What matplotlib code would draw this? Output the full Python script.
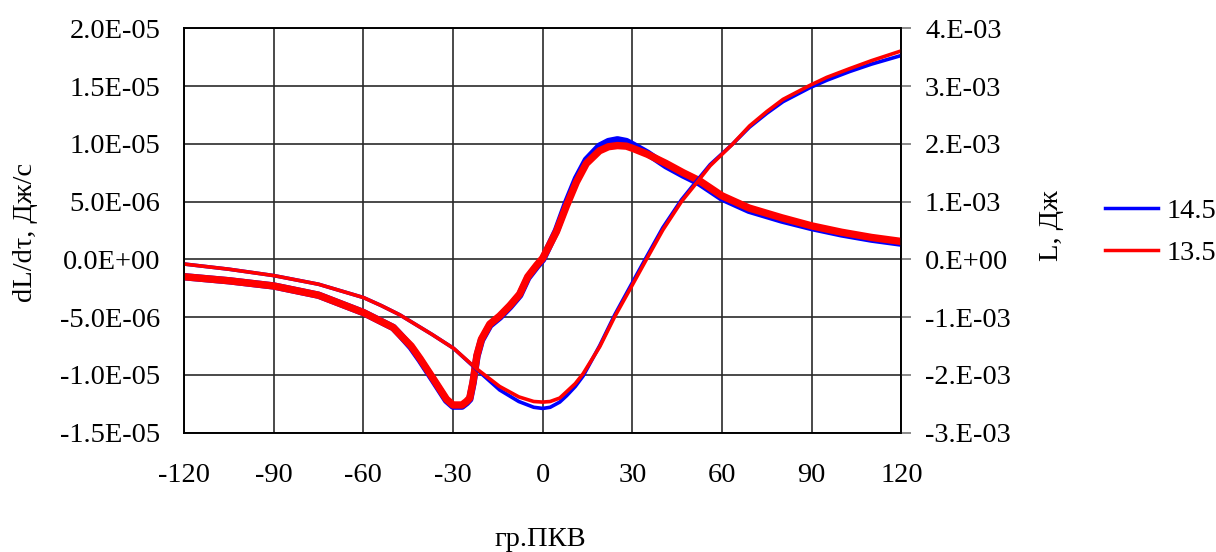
import matplotlib.pyplot as plt
from matplotlib.lines import Line2D

plt.rcParams['font.family'] = ['Liberation Serif', 'DejaVu Serif']
plt.rcParams['font.size'] = 20.5
plt.rcParams['axes.unicode_minus'] = False

# dL/dtau, left axis (x1e-6 J/s)
angle_rate = [-120, -105, -90, -75, -60, -50, -47.8, -44, -41, -36.7, -32.2, -30, -27, -25.5,
              -24.4, -23.3, -22, -20.5, -17.7, -14.4, -11, -7.7, -5, -2, 0, 4.6, 7.9, 11.3,
              14.6, 19, 22, 25, 28, 30.2, 35, 41.3, 47, 52.5, 60, 69, 80, 90, 100, 110, 120]
rate_145 = [-1.5, -1.85, -2.3, -3.1, -4.6, -5.9, -6.5, -7.6, -8.7, -10.4, -12.2, -12.7, -12.7, -12.4,
            -12.1, -10.7, -8.4, -7.0, -5.7, -5.0, -4.1, -3.1, -1.6, -0.6, 0.0, 2.5, 4.85, 7.0,
            8.6, 9.8, 10.2, 10.35, 10.2, 9.9, 9.2, 8.1, 7.3, 6.6, 5.3, 4.25, 3.4, 2.75, 2.2, 1.75, 1.4]
rate_135 = [-1.5, -1.85, -2.3, -3.1, -4.6, -5.9, -6.5, -7.5, -8.6, -10.3, -12.1, -12.6, -12.6, -12.3,
            -12.0, -10.6, -8.3, -6.9, -5.6, -4.9, -4.0, -3.0, -1.5, -0.5, 0.1, 2.4, 4.6, 6.7,
            8.3, 9.4, 9.75, 9.85, 9.8, 9.6, 9.1, 8.3, 7.5, 6.8, 5.5, 4.45, 3.6, 2.9, 2.35, 1.9, 1.55]

# L, right axis (x1e-3 J)
angle_work = [-120, -105, -90, -75, -60, -54, -47.8, -37, -29.8, -22.2, -14.4, -8, -3, 0, 2.5, 5.7,
              8, 10.9, 13.5, 19.1, 24.1, 29.7, 34.7, 40.2, 46.4, 51.4, 56, 63.6, 69.2, 75,
              80.4, 89.3, 95, 102.6, 110, 120]
work_145 = [-0.08, -0.17, -0.28, -0.43, -0.66, -0.8, -0.96, -1.3, -1.54, -1.9, -2.26, -2.46, -2.56, -2.58,
            -2.56, -2.47, -2.36, -2.2, -2.02, -1.49, -0.96, -0.43, 0.04, 0.55, 1.03, 1.35, 1.64,
            2.0, 2.29, 2.53, 2.73, 2.97, 3.1, 3.25, 3.38, 3.53]
work_135 = [-0.08, -0.17, -0.28, -0.43, -0.66, -0.8, -0.96, -1.3, -1.54, -1.89, -2.2, -2.38, -2.46, -2.47,
            -2.46, -2.4, -2.29, -2.15, -1.98, -1.51, -0.99, -0.47, 0.0, 0.51, 1.0, 1.32, 1.62,
            2.0, 2.31, 2.56, 2.77, 3.01, 3.15, 3.3, 3.44, 3.61]

x_ticks = [-120, -90, -60, -30, 0, 30, 60, 90, 120]
left_ticks = [-1.5e-5, -1.0e-5, -5.0e-6, 0.0, 5.0e-6, 1.0e-5, 1.5e-5, 2.0e-5]
left_labels = ['-1.5E-05', '-1.0E-05', '-5.0E-06', '0.0E+00', '5.0E-06', '1.0E-05', '1.5E-05', '2.0E-05']
right_ticks = [-3e-3, -2e-3, -1e-3, 0.0, 1e-3, 2e-3, 3e-3, 4e-3]
right_labels = ['-3.E-03', '-2.E-03', '-1.E-03', '0.E+00', '1.E-03', '2.E-03', '3.E-03', '4.E-03']

fig = plt.figure(figsize=(12.16, 5.52), dpi=100)
ax = fig.add_axes([184 / 1216, 1 - 432.7 / 552, 717.4 / 1216, 404.4 / 552])
ax2 = ax.twinx()

ax.plot(angle_rate, [v * 1e-6 for v in rate_145], color='#0000ff', lw=5.3, zorder=3)
ax.plot(angle_rate, [v * 1e-6 for v in rate_135], color='#ff0000', lw=5.3, zorder=4)
ax2.plot(angle_work, [v * 1e-3 for v in work_145], color='#0000ff', lw=2.6)
ax2.plot(angle_work, [v * 1e-3 for v in work_135], color='#ff0000', lw=2.6)

ax.set_xlim(-120, 120)
ax.set_ylim(-1.5e-5, 2.0e-5)
ax2.set_ylim(-3e-3, 4e-3)
ax.set_xticks(x_ticks)
ax.set_xticklabels([str(t) for t in x_ticks])
ax.set_yticks(left_ticks)
ax.set_yticklabels(left_labels)
ax2.set_yticks(right_ticks)
ax2.set_yticklabels(right_labels)

ax.grid(True, color='#2a2a2a', lw=1.2)
ax.tick_params(axis='x', length=0, pad=22)
ax.tick_params(axis='y', length=0, pad=17)
ax2.tick_params(axis='y', length=7, width=1.2, color='#777777', pad=10)
for s in list(ax.spines.values()) + list(ax2.spines.values()):
    s.set_color('black')
    s.set_linewidth(1.2)

fig.text(540 / 1216, 1 - 540 / 552, 'гр.ПКВ', ha='center', va='center')
fig.text(26 / 1216, 1 - 232 / 552, 'dL/dτ, Дж/с', ha='center', va='center', rotation=90)
fig.text(1051 / 1216, 1 - 226 / 552, 'L, Дж', ha='center', va='center', rotation=90)

handles = [Line2D([], [], color='#0000ff', lw=2.5), Line2D([], [], color='#ff0000', lw=2.5)]
fig.legend(handles, ['14.5', '13.5'], loc='center left', bbox_to_anchor=(1105 / 1216, 1 - 232 / 552),
           frameon=False, borderpad=0, borderaxespad=0, handlelength=1.85, handletextpad=0.3,
           labelspacing=0.55)

fig.savefig('out.png', dpi=100)
